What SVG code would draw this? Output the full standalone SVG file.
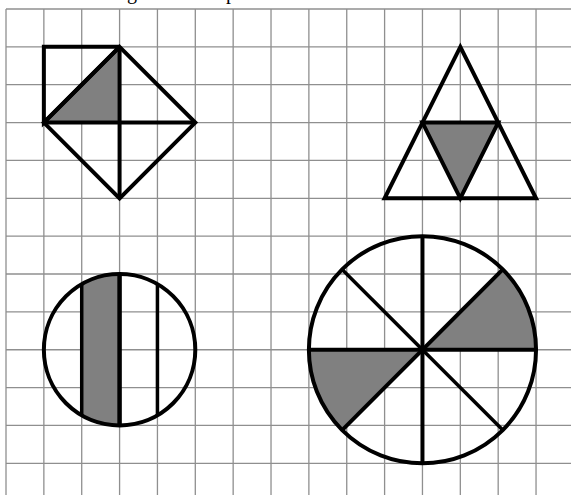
<svg xmlns="http://www.w3.org/2000/svg" width="571" height="495" viewBox="0 0 571 495">
<style>
.grid line{stroke:#8f8f8f;stroke-width:1.3}
.fig{fill:none;stroke:#000;stroke-width:4;stroke-linejoin:miter}
.shade{fill:#808080;stroke:none}
.txt{font-family:"Liberation Serif","DejaVu Serif",serif;font-size:20px;fill:#000}
</style>
<rect x="0" y="0" width="571" height="495" fill="#fff"/>
<text class="txt" y="-1"><tspan x="127">g</tspan><tspan x="226">p</tspan></text>
<g id="grid" class="grid">
<line x1="6" y1="9" x2="571" y2="9"/>
<line x1="6" y1="46.86" x2="571" y2="46.86"/>
<line x1="6" y1="84.72" x2="571" y2="84.72"/>
<line x1="6" y1="122.58" x2="571" y2="122.58"/>
<line x1="6" y1="160.44" x2="571" y2="160.44"/>
<line x1="6" y1="198.3" x2="571" y2="198.3"/>
<line x1="6" y1="236.16" x2="571" y2="236.16"/>
<line x1="6" y1="274.02" x2="571" y2="274.02"/>
<line x1="6" y1="311.88" x2="571" y2="311.88"/>
<line x1="6" y1="349.74" x2="571" y2="349.74"/>
<line x1="6" y1="387.6" x2="571" y2="387.6"/>
<line x1="6" y1="425.46" x2="571" y2="425.46"/>
<line x1="6" y1="463.32" x2="571" y2="463.32"/>
<line x1="6" y1="9" x2="6" y2="495"/>
<line x1="43.86" y1="9" x2="43.86" y2="495"/>
<line x1="81.72" y1="9" x2="81.72" y2="495"/>
<line x1="119.58" y1="9" x2="119.58" y2="495"/>
<line x1="157.44" y1="9" x2="157.44" y2="495"/>
<line x1="195.3" y1="9" x2="195.3" y2="495"/>
<line x1="233.16" y1="9" x2="233.16" y2="495"/>
<line x1="271.02" y1="9" x2="271.02" y2="495"/>
<line x1="308.88" y1="9" x2="308.88" y2="495"/>
<line x1="346.74" y1="9" x2="346.74" y2="495"/>
<line x1="384.6" y1="9" x2="384.6" y2="495"/>
<line x1="422.46" y1="9" x2="422.46" y2="495"/>
<line x1="460.32" y1="9" x2="460.32" y2="495"/>
<line x1="498.18" y1="9" x2="498.18" y2="495"/>
<line x1="536.04" y1="9" x2="536.04" y2="495"/>
</g>
<g id="square-diamond">
<polygon class="shade" points="43.86,122.58 119.58,46.86 119.58,122.58"/>
<g class="fig">
<polyline points="119.58,46.86 43.86,46.86 43.86,122.58 119.58,46.86"/>
<polygon points="119.58,46.86 195.3,122.58 119.58,198.3 43.86,122.58"/>
<line x1="119.58" y1="46.86" x2="119.58" y2="198.3"/>
<line x1="43.86" y1="122.58" x2="195.3" y2="122.58"/>
</g>
</g>
<g id="triangle">
<polygon class="shade" points="422.46,122.58 498.18,122.58 460.32,198.3"/>
<polygon class="fig" points="460.32,46.86 536.04,198.3 384.6,198.3" stroke-width="4.5"/>
<polygon class="fig" points="422.46,122.58 498.18,122.58 460.32,198.3" stroke-width="3"/>
</g>
<g id="striped-circle">
<path class="shade" d="M81.72,284.18 L119.58,274.02 L119.58,425.46 L81.72,415.3 Z"/>
<path class="shade" d="M81.72,284.18 A75.72,75.72 0 0 1 119.58,274.02 L119.58,425.46 A75.72,75.72 0 0 1 81.72,415.3 Z"/>
<g class="fig">
<circle cx="119.58" cy="349.74" r="75.72"/>
<line x1="81.72" y1="284.18" x2="81.72" y2="415.3" stroke-width="3.5"/>
<line x1="119.58" y1="274.02" x2="119.58" y2="425.46" stroke-width="4.5"/>
<line x1="157.44" y1="284.18" x2="157.44" y2="415.3" stroke-width="3.5"/>
</g>
</g>
<g id="sector-circle">
<path class="shade" d="M422.46,349.74 L536.04,349.74 A113.58,113.58 0 0 0 502.77,269.43 Z"/>
<path class="shade" d="M422.46,349.74 L308.88,349.74 A113.58,113.58 0 0 0 342.15,430.05 Z"/>
<g class="fig">
<circle cx="422.46" cy="349.74" r="113.58"/>
<line x1="422.46" y1="236.16" x2="422.46" y2="463.32"/>
<line x1="308.88" y1="349.74" x2="536.04" y2="349.74"/>
<line x1="342.15" y1="269.43" x2="502.77" y2="430.05" stroke-width="3.5"/>
<line x1="342.15" y1="430.05" x2="502.77" y2="269.43"/>
</g>
</g>
</svg>
